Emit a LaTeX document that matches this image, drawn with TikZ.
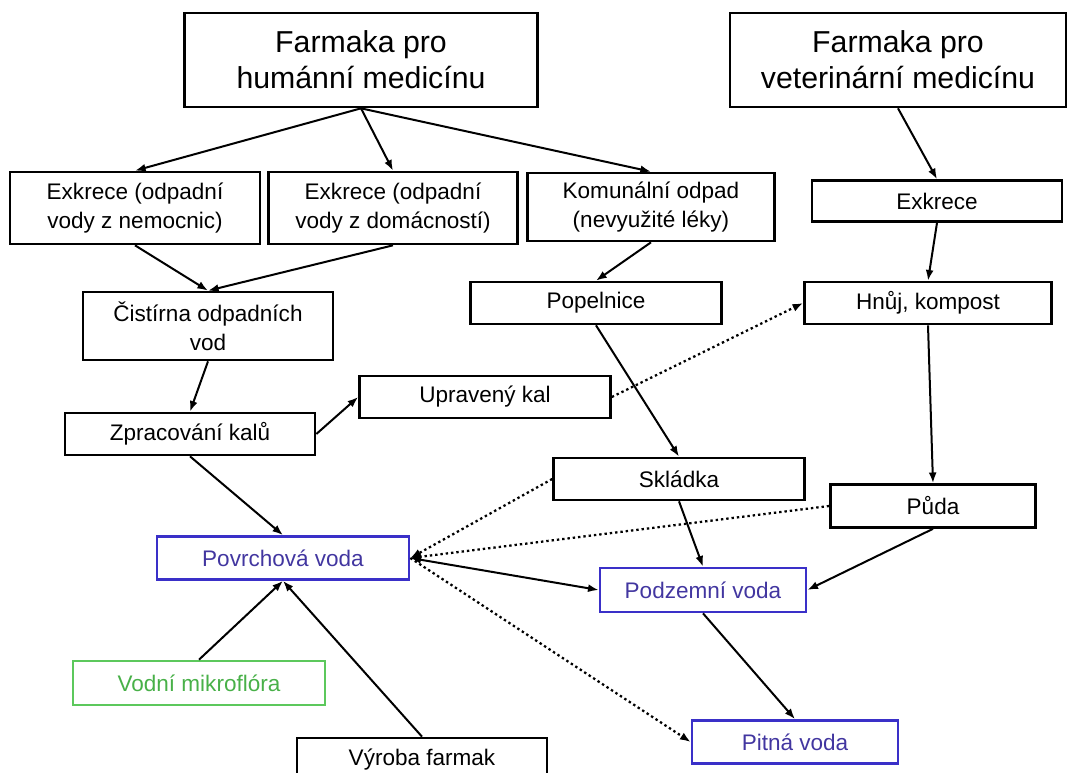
\documentclass[tikz,border=0pt]{standalone}
\usepackage{xcolor}
\usepackage{fontspec}
\setmainfont{Liberation Sans}
\usetikzlibrary{arrows.meta}
\definecolor{vodablue}{HTML}{3A30C8}
\definecolor{vodatext}{HTML}{4236A0}
\definecolor{floragreen}{HTML}{5CC85C}
\definecolor{floratext}{HTML}{48B048}

\begin{document}
\begin{tikzpicture}[x=0.75pt,y=-0.75pt,
  box/.style={draw,line width=2pt,inner sep=0pt,align=center,
    font=\fontsize{16.9}{21.4}\selectfont},
  boxsize/.style 2 args={minimum width=#1*0.75pt,minimum height=#2*0.75pt},
  bigbox/.style={box,font=\fontsize{22.7}{27}\selectfont},
  vodabox/.style={box,draw=vodablue,text=vodatext},
  florabox/.style={box,draw=floragreen,text=floratext},
  flow/.style={-{Latex[length=8pt,width=6pt]},line width=1.5pt},
  leak/.style={flow,line width=1.7pt,dash pattern=on 1.8pt off 2.2pt}]
  \useasboundingbox (0,0) rectangle (1074,773);
  \clip (0,0) rectangle (1074,773);

  % sources
  \node[bigbox,boxsize={353}{94}] (hum) at (361,60) {Farmaka pro\\humánní medicínu};
  \node[bigbox,boxsize={336}{94}] (vet) at (898,60) {Farmaka pro\\veterinární medicínu};

  \node[box,boxsize={250}{72}] (exnem) at (135,208) {Exkrece (odpadní\\vody z nemocnic)};
  \node[box,boxsize={249}{72}] (exdom) at (393,208) {Exkrece (odpadní\\vody z domácností)};
  \node[box,boxsize={247}{68}] (komodp) at (651,207) {Komunální odpad\\(nevyužité léky)};
  \node[box,boxsize={250}{41}] (exvet) at (937,201) {Exkrece};

  \node[box,boxsize={250}{68}] (cov) at (208,326) {Čistírna odpadních\\vod};
  \node[box,boxsize={251}{42}] (popel) at (596,303) {Popelnice};
  \node[box,boxsize={247}{42}] (hnuj) at (928,303) {Hnůj, kompost};
  \node[box,boxsize={251}{42}] (upkal) at (485,397) {Upravený kal};
  \node[box,boxsize={250}{42}] (kal) at (190,434) {Zpracování kalů};
  \node[box,boxsize={251}{42}] (skladka) at (679,479) {Skládka};
  \node[box,boxsize={205}{43}] (puda) at (933,506) {Půda};

  % water
  \node[vodabox,boxsize={252}{43}] (povrch) at (283,558) {Povrchová voda};
  \node[vodabox,boxsize={206}{44}] (podzem) at (703,590) {Podzemní voda};
  \node[vodabox,boxsize={206}{43}] (pitna) at (795,742) {Pitná voda};
  \node[florabox,boxsize={252}{44}] (mikro) at (199,683) {Vodní mikroflóra};
  \node[box,boxsize={250}{44}] (vyroba) at (422,760) {Výroba farmak};

  \foreach \a/\b in {hum.south/exnem.north, hum.south/exdom.north, hum.south/komodp.north,
    vet.south/exvet.north, exnem.south/cov.north, exdom.south/cov.north,
    komodp.south/popel.north, exvet.south/hnuj.north, cov.south/kal.north,
    kal.east/upkal.west, popel.south/skladka.north, hnuj.south/puda.north,
    kal.south/povrch.north, skladka.south/podzem.north, puda.south/podzem.east,
    podzem.south/pitna.north, mikro.north/povrch.south, vyroba.north/povrch.south} {
    \draw[flow] (\a) -- (\b);
  }
  \draw[flow,{Latex[length=8pt,width=6pt]}-{Latex[length=8pt,width=6pt]}] (povrch.east) -- (podzem.west);

  \foreach \a/\b in {upkal.east/hnuj.west, skladka.west/povrch.east,
    puda.west/povrch.east, povrch.east/pitna.west} {
    \draw[leak] (\a) -- (\b);
  }
\end{tikzpicture}
\end{document}
